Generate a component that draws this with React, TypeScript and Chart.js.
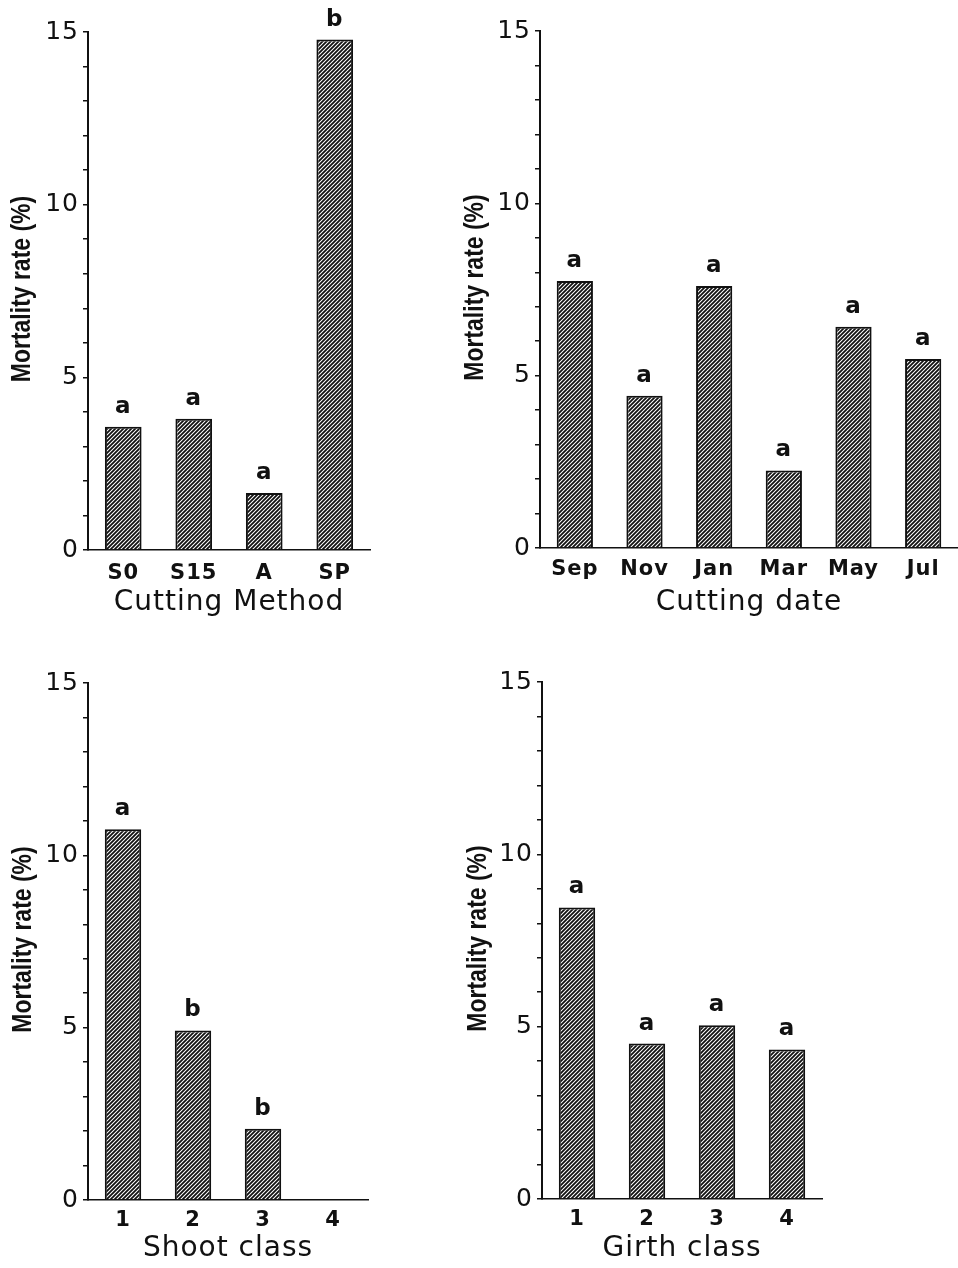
import React, { useEffect, useRef } from 'react';
import { Chart, registerables } from 'chart.js';

Chart.register(...registerables);

// ---------- data ----------
const methodLabels = ['S0', 'S15', 'A', 'SP'];
const methodValues = [3.57, 3.8, 1.65, 14.78];
const methodLetters = ['a', 'a', 'a', 'b'];

const dateLabels = ['Sep', 'Nov', 'Jan', 'Mar', 'May', 'Jul'];
const dateValues = [7.75, 4.42, 7.6, 2.25, 6.42, 5.48];
const dateLetters = ['a', 'a', 'a', 'a', 'a', 'a'];

const shootLabels = ['1', '2', '3', '4'];
const shootValues = [10.76, 4.92, 2.07, 0];
const shootLetters = ['a', 'b', 'b', ''];

const girthLabels = ['1', '2', '3', '4'];
const girthValues = [8.46, 4.51, 5.04, 4.34];
const girthLetters = ['a', 'a', 'a', 'a'];

const yMajorTicks = [0, 5, 10, 15];
const yTitle = 'Mortality rate (%)';

// ---------- styling ----------
const INK = '#111111';
const SANS = '"DejaVu Sans", sans-serif';
const TITLE_FONT = '"Liberation Sans", Arial, sans-serif';

type Spec = {
  labels: string[];
  values: number[];
  letters: string[];
  xTitle: string;
  x: number;
  y: number;
  w: number;
  h: number;
  left: number;
  right: number;
  top: number;
  bottom: number;
  xTickPad: number;
  xTitlePad: number;
  yTitleX: number;
};

const lettersPlugin = {
  id: 'letters',
  beforeDraw(chart: any) {
    try {
      (chart.ctx as any).letterSpacing = '1px';
    } catch (e) {}
  },
  afterDraw(chart: any, _args: any, opts: any) {
    const ctx = chart.ctx;
    const meta = chart.getDatasetMeta(0);
    ctx.save();
    ctx.font = `bold 23px ${SANS}`;
    ctx.fillStyle = INK;
    ctx.textAlign = 'center';
    ctx.textBaseline = 'alphabetic';
    meta.data.forEach((el: any, i: number) => {
      const t = opts.letters[i];
      if (t) ctx.fillText(t, el.x, el.y - 14);
    });
    ctx.restore();

    // vertical axis title, condensed
    const area = chart.chartArea;
    ctx.save();
    try {
      (ctx as any).letterSpacing = '0px';
    } catch (e) {}
    ctx.translate(opts.titleX, (area.top + area.bottom) / 2 - 2);
    ctx.rotate(-Math.PI / 2);
    ctx.scale(0.82, 1);
    ctx.font = `bold 28px ${TITLE_FONT}`;
    ctx.fillStyle = INK;
    ctx.textAlign = 'center';
    ctx.textBaseline = 'middle';
    ctx.fillText(opts.title, 0, 0);
    ctx.restore();
  },
};

function Panel({ spec }: { spec: Spec }) {
  const ref = useRef<HTMLCanvasElement>(null);
  useEffect(() => {
    const canvas = ref.current!;
    const ctx = canvas.getContext('2d')!;
    const tile = document.createElement('canvas');
    tile.width = 4;
    tile.height = 4;
    const g = tile.getContext('2d')!;
    g.fillStyle = '#ffffff';
    g.fillRect(0, 0, 4, 4);
    g.strokeStyle = INK;
    g.lineWidth = 1.8;
    g.beginPath();
    g.moveTo(-1, 5);
    g.lineTo(5, -1);
    g.moveTo(-1, 1);
    g.lineTo(1, -1);
    g.moveTo(3, 5);
    g.lineTo(5, 3);
    g.stroke();
    const pattern = ctx.createPattern(tile, 'repeat');

    const chart = new Chart(canvas, {
      type: 'bar',
      data: {
        labels: spec.labels,
        datasets: [
          {
            data: spec.values,
            backgroundColor: pattern as any,
            borderColor: INK,
            borderWidth: 2,
            borderSkipped: 'bottom',
            barPercentage: 0.52,
            categoryPercentage: 1,
          },
        ],
      },
      options: {
        animation: false,
        responsive: false,
        devicePixelRatio: 1,
        layout: {
          padding: { left: 0, top: spec.top, right: spec.w - spec.right, bottom: 0 },
        },
        plugins: {
          legend: { display: false },
          tooltip: { enabled: false },
          letters: { letters: spec.letters, title: yTitle, titleX: spec.yTitleX },
        } as any,
        scales: {
          x: {
            type: 'category',
            offset: true,
            grid: { display: false, drawTicks: false },
            border: { display: true, color: INK, width: 1.6 },
            ticks: {
              color: INK,
              padding: spec.xTickPad,
              font: { family: SANS, size: 21, weight: 'bold' },
              maxRotation: 0,
              autoSkip: false,
            },
            title: {
              display: true,
              text: spec.xTitle,
              color: INK,
              font: { family: SANS, size: 28, weight: 'normal' },
              padding: { top: 0, bottom: spec.xTitlePad },
            },
            afterFit: (s: any) => {
              s.height = spec.h - spec.bottom;
            },
          },
          y: {
            type: 'linear',
            min: 0,
            max: 15,
            grid: {
              display: true,
              drawOnChartArea: false,
              drawTicks: true,
              tickLength: 5,
              color: INK,
              lineWidth: 1.5,
            },
            border: { display: true, color: INK, width: 2 },
            ticks: {
              stepSize: 1,
              color: INK,
              padding: 4,
              font: { family: SANS, size: 25, weight: 'normal' },
              callback: (v: any) => (yMajorTicks.includes(Number(v)) ? String(v) : ''),
            },
            title: { display: false },
            afterFit: (s: any) => {
              s.width = spec.left;
            },
          },
        },
      },
      plugins: [lettersPlugin as any],
    });
    return () => chart.destroy();
  }, [spec]);

  return (
    <canvas
      ref={ref}
      width={spec.w}
      height={spec.h}
      style={{ position: 'absolute', left: spec.x, top: spec.y, width: spec.w, height: spec.h }}
    />
  );
}

const specs: Spec[] = [
  {
    labels: methodLabels, values: methodValues, letters: methodLetters, xTitle: 'Cutting Method',
    x: 0, y: 0, w: 440, h: 634, left: 88, right: 370, top: 32, bottom: 550,
    xTickPad: 11, xTitlePad: 14, yTitleX: 22,
  },
  {
    labels: dateLabels, values: dateValues, letters: dateLetters, xTitle: 'Cutting date',
    x: 440, y: 0, w: 518, h: 634, left: 100, right: 518, top: 31, bottom: 548,
    xTickPad: 9, xTitlePad: 14, yTitleX: 35,
  },
  {
    labels: shootLabels, values: shootValues, letters: shootLetters, xTitle: 'Shoot class',
    x: 0, y: 634, w: 440, h: 634, left: 88, right: 368, top: 49, bottom: 566,
    xTickPad: 8, xTitlePad: 2, yTitleX: 23,
  },
  {
    labels: girthLabels, values: girthValues, letters: girthLetters, xTitle: 'Girth class',
    x: 440, y: 634, w: 518, h: 634, left: 102, right: 382, top: 48, bottom: 565,
    xTickPad: 8, xTitlePad: 2, yTitleX: 38,
  },
];

export default function App() {
  return (
    <div style={{ position: 'absolute', left: 0, top: 0, width: 958, height: 1268, background: '#ffffff' }}>
      {specs.map((s, i) => (
        <Panel key={i} spec={s} />
      ))}
    </div>
  );
}
